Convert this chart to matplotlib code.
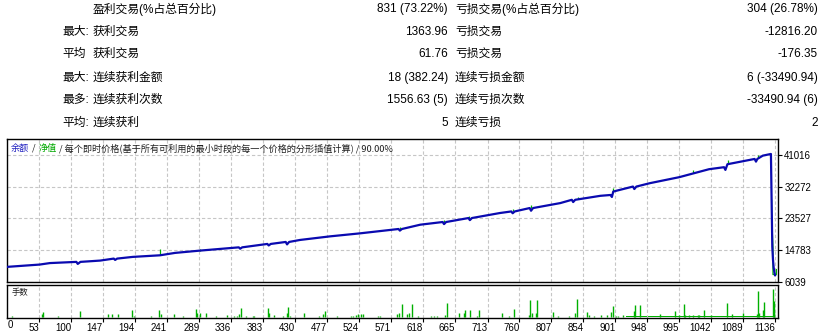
import matplotlib
matplotlib.use("Agg")
import matplotlib.pyplot as plt

# ---- summary table (MT4 report) ----
row_labels = ["", "最大:", "平均", "最大:", "最多:", "平均:"]
win_names = ["盈利交易(%占总百分比)", "获利交易", "获利交易", "连续获利金额", "连续获利次数", "连续获利"]
win_values = ["831 (73.22%)", "1363.96", "61.76", "18 (382.24)", "1556.63 (5)", "5"]
loss_names = ["亏损交易(%占总百分比)", "亏损交易", "亏损交易", "连续亏损金额", "连续亏损次数", "连续亏损"]
loss_values = ["304 (26.78%)", "-12816.20", "-176.35", "6 (-33490.94)", "-33490.94 (6)", "2"]

# ---- balance curve (trade number, balance) ----
balance_n = [0, 54, 69, 108, 110, 114, 143, 163, 165, 168, 191, 231, 253, 290,
             347, 349, 352, 389, 391, 394, 416, 418, 421, 437, 481, 525, 582,
             584, 587, 614, 647, 649, 652, 685, 687, 690, 731, 748, 750, 753,
             775, 777, 780, 820, 837, 839, 842, 879, 894, 896, 898, 927, 929,
             932, 952, 995, 1039, 1061, 1063, 1066, 1106, 1108, 1110, 1118,
             1130, 1131, 1132, 1133, 1134, 1135, 1136]
balance_v = [10000, 10720, 11130, 11460, 10900, 11460, 11820, 12370, 12000,
             12370, 12840, 13280, 13940, 14580, 15480, 15100, 15480, 16420,
             16000, 16420, 16970, 16300, 16970, 17520, 18510, 19340, 20550,
             20100, 20550, 21740, 22480, 21900, 22480, 23580, 23000, 23580,
             24960, 25400, 24900, 25400, 26340, 25600, 26340, 27710, 28620,
             28000, 28620, 29720, 29950, 29400, 30900, 32280, 31600, 32280,
             33220, 34870, 37080, 37630, 36880, 38450, 39910, 39170, 39910,
             40820, 41290, 28474, 15674, 12100, 9895, 8700, 7800]

# equity excursions away from the balance
spike_n = [231, 290, 584, 649, 686, 750, 777, 846, 898, 1015, 1067, 1111]
spike_base = [13280, 14580, 20550, 22480, 23580, 25400, 26340, 28900, 30900,
              36060, 38450, 40100]
spike_tip = [15130, 14900, 21100, 22980, 24200, 25950, 27100, 29530, 31900,
             36750, 39640, 41016]
eq_end_n = [1131, 1131, 1133, 1133, 1138, 1138]
eq_end_v = [28474, 24500, 15400, 7967, 7967, 9344]

# ---- lots per trade ----
lot_n = [13, 57, 59, 81, 113, 154, 160, 169, 190, 193, 218, 230, 233, 252,
         265, 284, 286, 290, 299, 313, 330, 340, 344, 347, 350, 358, 368, 369,
         390, 391, 399, 412, 418, 419, 422, 443, 465, 471, 474, 492, 512, 515,
         519, 522, 527, 530, 552, 555, 580, 583, 587, 595, 597, 602, 611, 630,
         634, 639, 650, 653, 671, 678, 680, 687, 698, 700, 734, 745, 752, 774,
         776, 778, 784, 786, 809, 817, 833, 842, 845, 859, 862, 870, 880, 889,
         895, 898, 902, 905, 912, 929, 930, 937, 967, 989, 995, 1002, 1004,
         1009, 1015, 1023, 1024, 1032, 1042, 1065, 1073, 1089, 1110, 1111,
         1113, 1118, 1120, 1133, 1134, 1135]
lot_v = [0.01, 0.027, 0.05, 0.01, 0.06, 0.027, 0.027, 0.027, 0.067, 0.01,
         0.01, 0.067, 0.033, 0.027, 0.01, 0.077, 0.037, 0.04, 0.037, 0.01,
         0.02, 0.01, 0.01, 0.033, 0.093, 0.01, 0.01, 0.01, 0.093, 0.037, 0.023,
         0.01, 0.043, 0.1, 0.01, 0.043, 0.01, 0.033, 0.06, 0.01, 0.01, 0.01,
         0.02, 0.033, 0.027, 0.027, 0.01, 0.01, 0.027, 0.043, 0.133, 0.033,
         0.043, 0.127, 0.01, 0.01, 0.01, 0.01, 0.023, 0.137, 0.037, 0.037,
         0.073, 0.073, 0.01, 0.073, 0.037, 0.01, 0.083, 0.023, 0.167, 0.04,
         0.04, 0.167, 0.047, 0.01, 0.01, 0.04, 0.18, 0.047, 0.023, 0.01, 0.023,
         0.023, 0.05, 0.107, 0.01, 0.01, 0.023, 0.063, 0.117, 0.117, 0.03,
         0.063, 0.023, 0.13, 0.023, 0.023, 0.023, 0.023, 0.023, 0.067, 0.023,
         0.14, 0.03, 0.037, 0.033, 0.263, 0.04, 0.073, 0.15, 0.283, 0.16, 0.04]
base_lot_start = 917
base_lot_end = 1136
base_lot = 0.012

xtick_vals = [0, 53, 100, 147, 194, 241, 289, 336, 383, 430, 477, 524, 571,
              618, 665, 713, 760, 807, 854, 901, 948, 995, 1042, 1089, 1136]
ytick_vals = [6039, 14783, 23527, 32272, 41016]

W, H = 836, 336
BLUE = "#0a0ab0"
GREEN = "#00b000"
GRID = "#c6c6c6"
LATIN = ["Liberation Sans", "Noto Sans CJK SC"]
CJK = ["Noto Sans CJK SC", "DejaVu Sans"]


def fx(x):
    return x / W


def fy(y):
    return 1 - y / H


fig = plt.figure(figsize=(W / 100, H / 100), dpi=100)

# table
row_y = [9, 32, 54, 78, 100, 123]
for i, y in enumerate(row_y):
    lx = 86 if row_labels[i] == "平均" else 89
    fig.text(fx(lx), fy(y), row_labels[i], ha="right", va="center", fontsize=8.5, family=LATIN)
    fig.text(fx(93), fy(y), win_names[i], ha="left", va="center", fontsize=8.5, family=LATIN)
    fig.text(fx(448), fy(y), win_values[i], ha="right", va="center", fontsize=8.5, family=LATIN)
    fig.text(fx(455), fy(y), loss_names[i], ha="left", va="center", fontsize=8.5, family=LATIN)
    fig.text(fx(818), fy(y), loss_values[i], ha="right", va="center", fontsize=8.5, family=LATIN)

xmin, xmax = 5.9, 1140.4

# main balance / equity panel
ax = fig.add_axes([fx(7), fy(281.5), (778 - 7) / W, (281.5 - 139) / H])
ax.vlines(spike_n, spike_base, spike_tip, color=GREEN, lw=0.9, zorder=2)
ax.plot(eq_end_n, eq_end_v, color=GREEN, lw=0.9, zorder=2)
ax.plot(balance_n, balance_v, color=BLUE, lw=1.6, zorder=3)
ax.set_xlim(xmin, xmax)
ax.set_ylim(6039, 45424)
ax.set_xticks(xtick_vals[1:])
ax.set_yticks(ytick_vals)
ax.yaxis.tick_right()
ax.tick_params(axis="x", length=0, labelbottom=False)
ax.tick_params(axis="y", length=3, width=0.8, pad=1.5, labelsize=7)
for lbl in ax.get_yticklabels():
    lbl.set_family(LATIN)
ax.grid(True, color=GRID, ls=(0, (3, 2)), lw=0.8, zorder=0)
for sp in ax.spines.values():
    sp.set_linewidth(1.0)

fig.text(fx(11), fy(148), "余额", color="#2020c0", fontsize=6.6, family=CJK, va="center")
fig.text(fx(32), fy(148), "/", color="#202020", fontsize=6.6, family=CJK, va="center")
fig.text(fx(39), fy(148), "净值", color="#00a800", fontsize=6.6, family=CJK, va="center")
fig.text(fx(59), fy(148), "/ 每个即时价格(基于所有可利用的最小时段的每一个价格的分形插值计算) / 90.00%",
         color="#202020", fontsize=6.6, family=CJK, va="center")

# lots panel
av = fig.add_axes([fx(7), fy(318), (778 - 7) / W, (318 - 285) / H])
av.bar(base_lot_start, base_lot, width=base_lot_end - base_lot_start, align="edge",
       color=GREEN, linewidth=0)
av.vlines(lot_n, 0, lot_v, color=GREEN, lw=1.0)
av.set_xlim(xmin, xmax)
av.set_ylim(-0.012, 0.32)
av.set_yticks([])
av.set_xticks(xtick_vals[1:])
av.set_xticklabels([str(v) for v in xtick_vals[1:]])
av.tick_params(axis="x", length=3, width=0.8, pad=0.5, labelsize=7)
for lbl in av.get_xticklabels():
    lbl.set_ha("right")
    lbl.set_family(LATIN)
av.grid(True, axis="x", color=GRID, ls=(0, (3, 2)), lw=0.8, zorder=0)
for sp in av.spines.values():
    sp.set_linewidth(1.0)
fig.text(fx(12), fy(292), "手数", fontsize=6, family=CJK, va="center", color="#202020")
fig.text(fx(13), fy(325), str(xtick_vals[0]), ha="right", va="center", fontsize=7, family=LATIN)

fig.savefig("out.png", dpi=100)
